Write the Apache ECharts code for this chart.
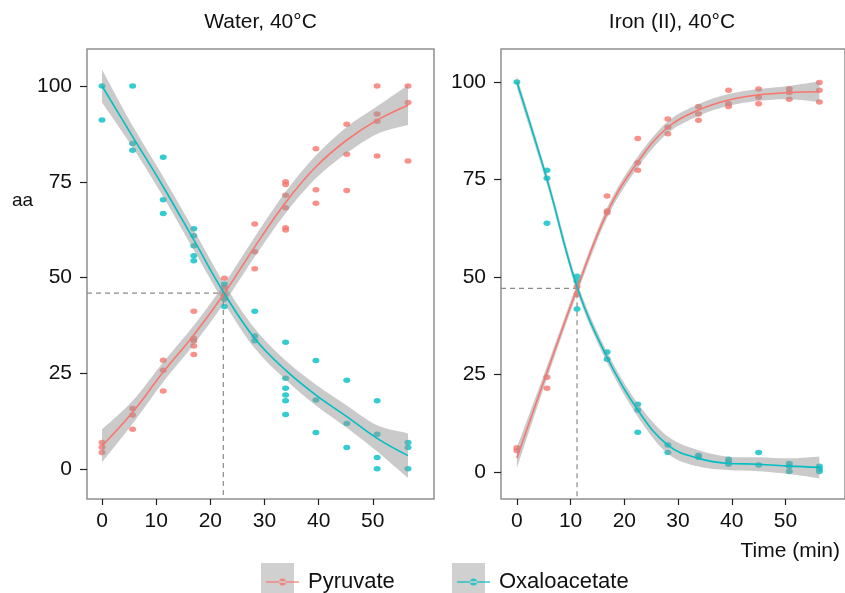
<!DOCTYPE html>
<html><head><meta charset="utf-8">
<script src="https://cdn.jsdelivr.net/npm/echarts@6/dist/echarts.min.js"></script>
<style>html,body{margin:0;padding:0;background:#fff}#c{width:845px;height:593px}</style>
</head><body><div id="c"></div>
<script>
// ---- data ----
const timesWater = [0, 5.65, 11.3, 16.95, 22.6, 28.2, 33.9, 39.5, 45.2, 50.8, 56.5];
const timesIron  = [0, 5.6, 11.2, 16.8, 22.5, 28.1, 33.8, 39.4, 45.0, 50.7, 56.3];

const waterPyruvate = [[6.9,5.7,4.3],[15.8,14.1,10.4],[28.4,25.8,20.4],[41.2,34.1,33.4,32.1,29.9],[49.8,47.5,45.5],[64.0,56.7,52.3],[75.0,74.3,71.5,68.2,63.0,62.4],[83.6,72.9,69.4],[90.0,82.2,72.7],[100,92.7,90.8,81.7],[100,95.7,80.4]];
const waterOxalo = [[100,91.1],[100,85.0,83.2],[81.4,70.3,66.7],[62.7,60.9,58.3,55.7,54.4],[48.3,44.4,42.4],[41.2,34.7,33.5],[33.1,23.7,21.1,19.3,17.8,14.2],[28.3,18.0,9.5],[23.2,11.9,5.6],[17.8,9.1,3.0,0.1],[6.9,5.6,0.1]];
const ironPyruvate = [[6.2,5.5],[24.3,21.5],[47.5,45.5],[70.8,66.9,66.5],[85.5,79.3,77.4],[90.5,88.4,86.7],[93.7,91.8,90.2],[97.9,94.4,93.7],[98.2,96.1,94.4],[98.3,97.3,95.6],[99.9,97.9,94.9]];
const ironOxalo = [[100],[77.4,75.3,63.8],[50.2,49.0,41.8],[30.8,28.9],[17.4,15.9,10.2],[6.9,5.0],[4.3,3.8],[3.3,2.6,2.0],[5.0,1.8],[2.2,1.4,0.1],[1.5,0.8,0.1]];

// smoothed fits and ribbon half-widths
const waterPyrFit = [6.0, 14.8, 25.3, 35.0, 45.9, 58.0, 69.6, 78.9, 85.9, 91.1, 95.0];
const waterPyrSe  = [4.3, 3.0, 2.6, 2.5, 2.5, 2.6, 2.8, 3.0, 3.4, 3.6, 5.2];
const waterOxFit  = [100, 86.8, 73.7, 59.8, 45.8, 34.1, 25.8, 19.3, 13.7, 8.0, 3.5];
const waterOxSe   = [4.3, 2.8, 2.6, 2.6, 2.5, 2.6, 2.5, 2.7, 2.9, 3.4, 5.8];
const ironPyrFit  = [3.6, 25.5, 47.0, 66.5, 79.5, 88.4, 92.8, 95.4, 96.7, 97.3, 97.5];
const ironPyrSe   = [2.6, 1.6, 1.3, 1.3, 1.4, 1.5, 1.5, 1.5, 1.5, 1.7, 2.6];
const ironOxFit   = [100, 75.1, 47.5, 29.4, 15.9, 6.9, 3.5, 2.2, 2.0, 1.5, 1.2];
const ironOxSe    = [1.5, 1.3, 1.3, 1.4, 1.7, 2.2, 2.1, 1.7, 1.8, 2.0, 2.8];

// crossing points (dashed guides)
const crossWater = [22.4, 45.9];
const crossIron  = [11.2, 47.1];

const xTicks = [0, 10, 20, 30, 40, 50];
const yTicks = [0, 25, 50, 75, 100];
const panelTitles = ['Water, 40°C', 'Iron (II), 40°C'];
const seriesNames = ['Pyruvate', 'Oxaloacetate'];

// ---- styling ----
const RED = '#F8766D', TEAL = '#00BFC4';
const RIBBON = 'rgba(150,150,150,0.5)';
const FONT = '"Liberation Sans", Arial, Helvetica, sans-serif';
const ext = [
  {xMin: -2.77, xMax: 61.3, yMin: -7.83, yMax: 109.66},
  {xMin: -2.95, xMax: 61.07, yMin: -6.92, yMax: 108.46}
];
const panels = [
  {times: timesWater, pyr: waterPyruvate, ox: waterOxalo, pyrFit: waterPyrFit, pyrSe: waterPyrSe, oxFit: waterOxFit, oxSe: waterOxSe, cross: crossWater},
  {times: timesIron, pyr: ironPyruvate, ox: ironOxalo, pyrFit: ironPyrFit, pyrSe: ironPyrSe, oxFit: ironOxFit, oxSe: ironOxSe, cross: crossIron}
];

function flatten(times, groups) {
  const out = [];
  groups.forEach((g, k) => g.forEach(v => out.push([times[k], v])));
  return out;
}

// Catmull-Rom -> cubic bezier path segments through pixel points
function splinePath(pts, start) {
  let d = start ? 'M' + pts[0][0] + ',' + pts[0][1] : 'L' + pts[0][0] + ',' + pts[0][1];
  const s = 0.16;
  for (let i = 0; i < pts.length - 1; i++) {
    const p0 = pts[Math.max(0, i - 1)], p1 = pts[i], p2 = pts[i + 1], p3 = pts[Math.min(pts.length - 1, i + 2)];
    const c1 = [p1[0] + (p2[0] - p0[0]) * s, p1[1] + (p2[1] - p0[1]) * s];
    const c2 = [p2[0] - (p3[0] - p1[0]) * s, p2[1] - (p3[1] - p1[1]) * s];
    d += 'C' + c1[0] + ',' + c1[1] + ' ' + c2[0] + ',' + c2[1] + ' ' + p2[0] + ',' + p2[1];
  }
  return d;
}

function ribbonSeries(i, times, fit, se) {
  return {
    type: 'custom', xAxisIndex: i, yAxisIndex: i, silent: true, z: 3, clip: true,
    data: [[times[0], fit[0]]],
    renderItem: function (params, api) {
      const up = times.map((t, k) => api.coord([t, fit[k] + se[k]]));
      const lo = times.map((t, k) => api.coord([t, fit[k] - se[k]])).reverse();
      const d = splinePath(up, true) + splinePath(lo, false) + 'Z';
      return {type: 'path', shape: {pathData: d}, style: {fill: RIBBON, stroke: null}};
    }
  };
}

const grids = [], xAxes = [], yAxes = [], series = [];
const lefts = [87, 501];
panels.forEach((p, i) => {
  const e = ext[i];
  grids.push({left: lefts[i], top: 49, width: 347, height: 450, show: true,
    borderColor: '#8f8f8f', borderWidth: 1.5, backgroundColor: 'transparent'});
  xAxes.push({type: 'value', gridIndex: i, min: e.xMin, max: e.xMax, position: 'bottom',
    axisLine: {show: false, onZero: false}, splitLine: {show: false},
    axisTick: {show: true, length: 6, lineStyle: {color: '#222', width: 1.2}, customValues: xTicks},
    axisLabel: {customValues: xTicks, fontSize: 21, color: '#111', margin: 12, fontFamily: FONT}});
  yAxes.push({type: 'value', gridIndex: i, min: e.yMin, max: e.yMax, position: 'left',
    axisLine: {show: false, onZero: false}, splitLine: {show: false},
    axisTick: {show: true, length: 7, lineStyle: {color: '#222', width: 1.2}, customValues: yTicks},
    axisLabel: {customValues: yTicks, fontSize: 21, color: '#111', margin: 15, fontFamily: FONT}});

  // dashed guide lines
  series.push({type: 'line', xAxisIndex: i, yAxisIndex: i, silent: true, symbol: 'none', z: 1,
    data: [[e.xMin, p.cross[1]], [p.cross[0], p.cross[1]], [p.cross[0], e.yMin]],
    lineStyle: {type: [5, 4], color: '#8a8a8a', width: 1.2}});

  // points
  series.push({type: 'scatter', name: seriesNames[0], xAxisIndex: i, yAxisIndex: i, z: 2,
    symbol: 'circle', symbolSize: [7, 5.5], itemStyle: {color: RED}, data: flatten(p.times, p.pyr)});
  series.push({type: 'scatter', name: seriesNames[1], xAxisIndex: i, yAxisIndex: i, z: 2,
    symbol: 'circle', symbolSize: [7, 5.5], itemStyle: {color: TEAL}, data: flatten(p.times, p.ox)});

  // ribbons
  series.push(ribbonSeries(i, p.times, p.pyrFit, p.pyrSe));
  series.push(ribbonSeries(i, p.times, p.oxFit, p.oxSe));

  // fits
  [[p.pyrFit, RED, seriesNames[0]], [p.oxFit, TEAL, seriesNames[1]]].forEach(([fit, col, nm]) => {
    series.push({type: 'line', name: nm, xAxisIndex: i, yAxisIndex: i, symbol: 'none', smooth: 0.4, z: 4,
      lineStyle: {color: col, width: 1.6}, itemStyle: {color: col},
      data: p.times.map((t, k) => [t, fit[k]])});
  });
});

const iconPath = 'path://M0,2.8 H33 V4.2 H0 Z M13,3.5 A3.5,3.5 0 1 0 20,3.5 A3.5,3.5 0 1 0 13,3.5 Z';
const legendLefts = [261, 452];
const legends = seriesNames.map((nm, k) => ({
  data: [nm], left: legendLefts[k], top: 566, orient: 'horizontal', z: 5,
  icon: iconPath, itemWidth: 33, itemHeight: 7, selectedMode: false,
  itemStyle: {color: k === 0 ? RED : TEAL, borderWidth: 0},
  textStyle: {fontSize: 22, color: '#111', fontFamily: FONT, padding: [0, 0, 0, 4]}
}));

const option = {
  backgroundColor: '#fff',
  animation: false,
  title: [
    {text: panelTitles[0], left: 260.5, top: 12, textAlign: 'center', padding: 0,
      textStyle: {fontSize: 21, fontWeight: 'normal', color: '#111', fontFamily: FONT}},
    {text: panelTitles[1], left: 672, top: 12, textAlign: 'center', padding: 0,
      textStyle: {fontSize: 21, fontWeight: 'normal', color: '#111', fontFamily: FONT}},
    {text: 'aa', left: 12, top: 191, padding: 0,
      textStyle: {fontSize: 19, fontWeight: 'normal', color: '#111', fontFamily: FONT}},
    {text: 'Time (min)', left: 840, top: 541, textAlign: 'right', padding: 0,
      textStyle: {fontSize: 21, fontWeight: 'normal', color: '#111', fontFamily: FONT}}
  ],
  graphic: [
    {type: 'rect', z: 0, shape: {x: 261, y: 563, width: 33, height: 30}, style: {fill: '#d0d0d0'}},
    {type: 'rect', z: 0, shape: {x: 452, y: 563, width: 33, height: 30}, style: {fill: '#d0d0d0'}}
  ],
  legend: legends,
  grid: grids, xAxis: xAxes, yAxis: yAxes, series: series
};
const chart = echarts.init(document.getElementById('c'));
chart.setOption(option);
</script></body></html>
